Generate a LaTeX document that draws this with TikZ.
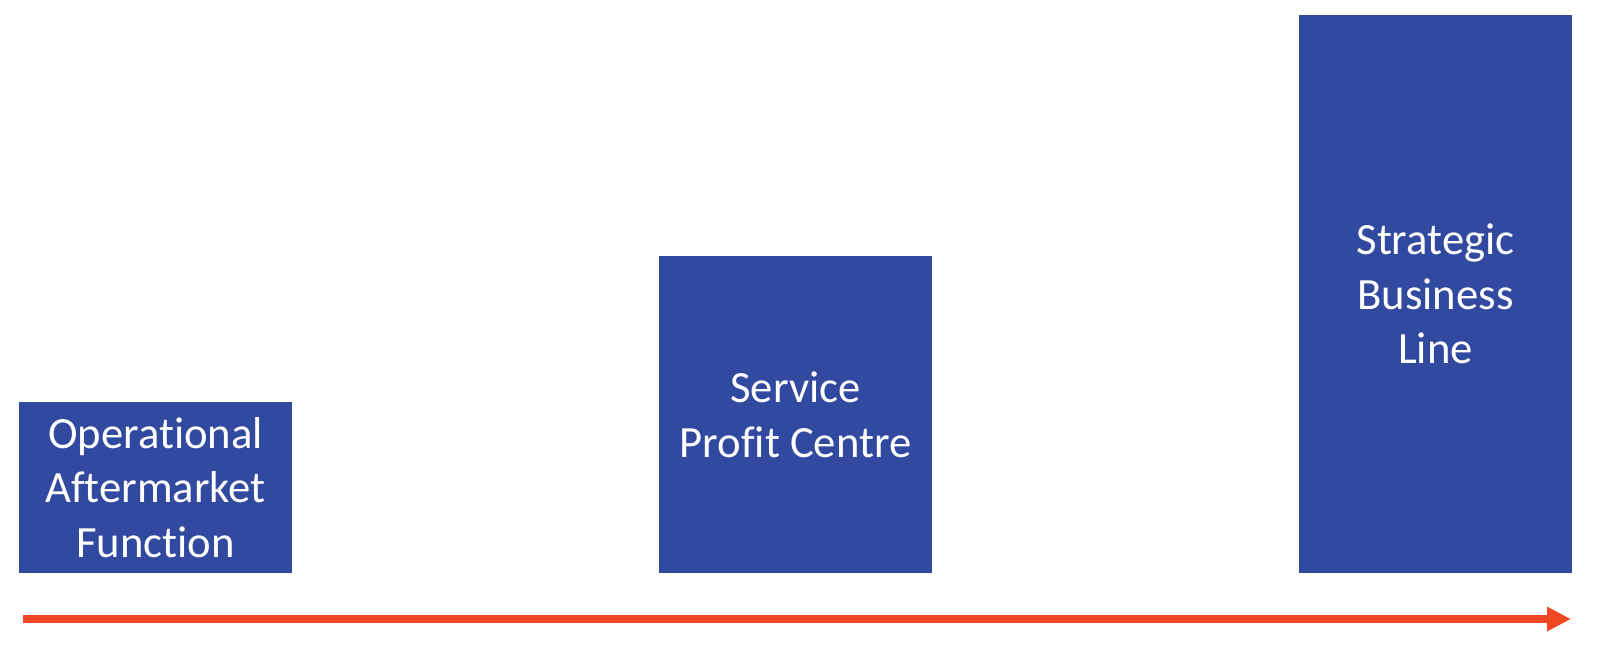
\documentclass[tikz,border=0pt]{standalone}
\usepackage{fontspec}
\setmainfont{Carlito}[Ligatures=NoCommon]
\usetikzlibrary{arrows.meta}
\definecolor{barblue}{RGB}{49,74,160}
\definecolor{arrred}{RGB}{240,72,34}
\tikzset{
  bar/.style={fill=barblue, draw=none, inner sep=0pt, minimum width=204.75pt,
    text=white, align=center, font=\fontsize{33.5}{41}\selectfont},
  arr/.style={draw=arrred, line width=6pt, -{Triangle[length=18pt,width=17.25pt]}}
}
\begin{document}
\begin{tikzpicture}[x=0.75pt,y=-0.75pt]
\useasboundingbox (0,0) rectangle (1605,651);
\node[bar, minimum height=128.25pt] (b1) at (155.5,487.5) {Operational\\Aftermarket\\Function};
\node[bar, minimum height=237.75pt] (b2) at (795.5,414.5) {Service\\Profit Centre};
\node[bar, minimum height=418.5pt] (b3) at (1435.5,294) {Strategic\\Business\\Line};
\coordinate (a0) at (23,619);
\coordinate (a1) at (1571,619);
\draw[arr] (a0) -- (a1);
\end{tikzpicture}
\end{document}
